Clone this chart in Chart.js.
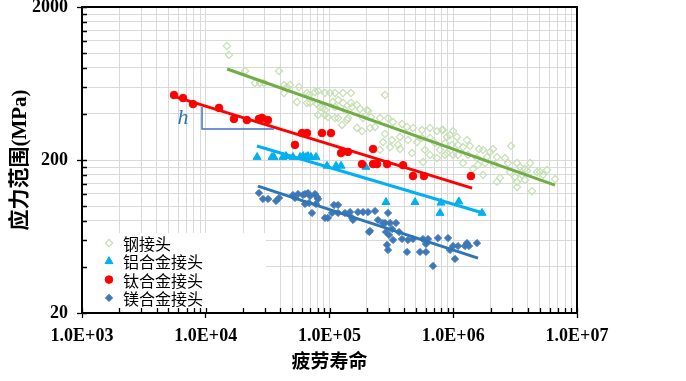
<!DOCTYPE html>
<html><head><meta charset="utf-8">
<script src="https://cdn.jsdelivr.net/npm/chart.js@4.4.1/dist/chart.umd.min.js"></script>
<style>html,body{margin:0;padding:0;background:#fff;}#wrap{width:686px;height:381px;}</style>
</head><body><div id="wrap"><canvas id="c" width="686" height="381"></canvas></div>
<script>
// ---- categories / labels ----
const seriesNames = ['钢接头', '铝合金接头', '钛合金接头', '镁合金接头'];
const xTitle = '疲劳寿命';
const yTitle = '应力范围(MPa)';
const xMajor = [1e3, 1e4, 1e5, 1e6, 1e7];
const xTickLabels = ['1.0E+03', '1.0E+04', '1.0E+05', '1.0E+06', '1.0E+07'];
const yMajor = [20, 200, 2000];
const yTickLabels = ['20', '200', '2000'];

// ---- series values: [fatigue life N, stress range MPa] ----
const steelPts = [
[14.8e3,1112],[15.4e3,971],[20.8e3,763],[39.1e3,763],[25.0e3,637],[27.4e3,637],[29.6e3,637],[42.9e3,618],[45.4e3,600],[48.0e3,618],
[42.9e3,548],[54.6e3,479],[56.7e3,600],[65.8e3,548],[68.3e3,532],[76.4e3,556],[80.8e3,565],[91.9e3,548],[100.9e3,548],[110.8e3,548],
[65.8e3,472],[69.6e3,472],[79.3e3,465],[88.6e3,437],[80.8e3,394],[91.9e3,394],[97.2e3,382],[110.8e3,376],[91.9e3,424],[106.7e3,479],
[117.2e3,493],[128.6e3,548],[149.2e3,548],[280.9e3,532],[128.6e3,472],[149.2e3,472],[110.8e3,444],[133.4e3,424],[176.4e3,431],[204.7e3,418],
[117.2e3,376],[141.1e3,376],[186.5e3,376],[216.5e3,382],[255.9e3,376],[126.2e3,339],[166.8e3,324],[183.1e3,309],[212.5e3,324],[233.2e3,329],
[297.0e3,376],[326.0e3,354],[385.4e3,344],[423.0e3,329],[472.9e3,324],[559.2e3,314],[648.7e3,324],[739.1e3,309],[826.4e3,314],[941.3e3,291],
[1.072e6,283],[280.9e3,296],[320.0e3,270],[371.3e3,283],[430.9e3,270],[509.5e3,262],[559.2e3,279],[648.7e3,279],[712.0e3,258],[857.9e3,258],
[977.0e3,251],[371.3e3,236],[464.2e3,222],[591.0e3,233],[648.7e3,216],[781.5e3,233],[890.3e3,222],[995.5e3,216],[739.1e3,206],[308.3e3,243],
[255.9e3,233],[270.6e3,262],[357.8e3,251],[1.092e6,251],[569.5e3,194],[152.0e3,444],[166.8e3,458],[200.9e3,424],[138.5e3,365],[83.8e3,444],
[811.2e3,314],[995.5e3,309],[890.3e3,283],[1.291e6,270],[1.199e6,243],[1.366e6,247],[1.615e6,236],[1.740e6,233],[1.982e6,226],[2.096e6,236],
[857.9e3,216],[1.092e6,216],[1.316e6,216],[1.556e6,206],[1.874e6,209],[2.257e6,209],[2.620e6,206],[2.929e6,247],[1.806e6,191],[2.175e6,186],
[2.770e6,191],[3.275e6,191],[3.463e6,180],[4.172e6,191],[3.800e6,175],[2.874e6,167],[2.387e6,153],[1.740e6,160],[3.155e6,155],[3.594e6,160],
[3.945e6,170],[4.752e6,167],[5.024e6,167],[5.723e6,172],[3.800e6,148],[5.314e6,160],[6.640e6,150],[3.275e6,144],[4.329e6,125],[1.444e6,175],
[1.199e6,191],[1.585e6,186],[2.257e6,144],[3.275e6,133]
];
const alumPts = [
[26.0e3,209],[34.3e3,209],[35.6e3,209],[42.1e3,209],[44.5e3,212],[50.7e3,209],[57.8e3,209],[61.1e3,212],[64.6e3,209],[67.0e3,212],
[70.9e3,209],[77.8e3,209],[95.5e3,183],[113e3,183],[124e3,183],[197e3,180],[286e3,106],[491e3,106],[796e3,105],[782e3,90],
[1.11e6,107],[1.71e6,90]
];
const titanPts = [
[5.54e3,532],[6.55e3,508],[7.89e3,464],[12.8e3,438],[16.9e3,371],[21.5e3,365],[26.9e3,371],[28.5e3,377],[31.8e3,365],[52.6e3,251],
[60.0e3,300],[65.8e3,300],[86.9e3,300],[102.8e3,300],[124e3,222],[141e3,226],[225e3,236],[183e3,188],[225e3,188],[242e3,188],
[292e3,188],[393e3,185],[473e3,157],[580e3,157],[1.39e6,157]
];
const magPts = [
[26.9e3,121.7],[29.0e3,111.2],[31.9e3,111.2],[37.0e3,107.9],[39.1e3,112.9],[50.7e3,118.1],[52.6e3,112.9],[55.7e3,119.9],[61.1e3,118.1],[63.4e3,119.9],
[67.0e3,121.7],[69.6e3,116.3],[63.4e3,103.2],[68.3e3,104.7],[72.2e3,90.1],[76.4e3,119.9],[79.3e3,114.6],[80.8e3,111.2],[77.8e3,103.2],[91.9e3,83.6],
[97.2e3,83.6],[108.7e3,101.6],[117.2e3,101.6],[104.8e3,90.1],[117.2e3,90.1],[133.4e3,90.1],[146.5e3,91.4],[152e3,83.6],[154.9e3,81.1],[169.9e3,91.4],
[186.5e3,91.4],[204.7e3,91.4],[233.2e3,92.8],[212.5e3,68.7],[208.6e3,67.7],[246.6e3,81.1],[270.6e3,77.5],[280.9e3,77.5],[308.3e3,77.5],[344.7e3,77.5],
[297e3,90.1],[286.2e3,67.7],[302.6e3,64.7],[320e3,70.8],[364.5e3,67.7],[291.5e3,55.7],[326e3,60.0],[297e3,51.6],[385.4e3,60.9],[430.9e3,60.0],
[423e3,50.1],[472.9e3,60.9],[538.6e3,50.1],[602.2e3,50.1],[569.5e3,60.9],[625.2e3,60.9],[602.2e3,56.5],[686e3,40.6],[753e3,61.8],[907.4e3,61.8],
[941.3e3,51.6],[1.033e6,45.1],[995.5e3,54.8],[1.092e6,54.8],[1.244e6,54.8],[1.291e6,57.3],[1.341e6,54.8],[1.556e6,57.3]
];
// fitted trend lines (end points)
const steelFit = [[14.9e3,787],[6.64e6,137]];
const alumFit  = [[25.9e3,247],[1.74e6,90]];
const titanFit = [[5.44e3,523],[1.42e6,131]];
const magFit   = [[26.4e3,135],[1.585e6,45.7]];
// slope annotation "h": corner bracket and label (data units)
const hBracket = [[9.33e3,444],[9.33e3,319],[35.6e3,319]];
const hLabel = [6.55e3,376];

const xy = a => a.map(p => ({x:p[0], y:p[1]}));
function decadeTicks(majors){
  const t=[];
  for(let i=0;i<majors.length-1;i++) for(let k=1;k<=9;k++) t.push(majors[i]*k);
  t.push(majors[majors.length-1]);
  return t;
}
const isMajor = (v, majors) => majors.some(m => Math.abs(m - v) < m*1e-9);

const serif = '"Liberation Serif", "Times New Roman", "Noto Sans CJK SC", serif';
const cjk = '"Noto Sans CJK SC", "Liberation Serif", sans-serif';

const legendPlugin = {
  id:'boxLegend',
  afterDatasetsDraw(chart){
    const ctx = chart.ctx, ca = chart.chartArea;
    ctx.save();
    ctx.fillStyle = '#fff';
    ctx.fillRect(ca.left+1, ca.bottom-80, 183, 79);
    const rows = chart.data.datasets.filter(d => d.inLegend);
    rows.forEach((d,i) => {
      const y = ca.bottom - 70 + i*18.3;
      const x = ca.left + 27;
      ctx.fillStyle = d.backgroundColor; ctx.strokeStyle = d.borderColor; ctx.lineWidth = d.borderWidth;
      Chart.helpers.drawPoint(ctx, {pointStyle:d.pointStyle, radius:d.pointRadius, rotation:0, borderWidth:d.borderWidth}, x, y);
      ctx.fillStyle = '#000'; ctx.font = '16px ' + cjk; ctx.textBaseline = 'middle'; ctx.textAlign='left';
      ctx.fillText(d.label, x + 14, y + 1);
    });
    // annotation
    const xs = chart.scales.x, ys = chart.scales.y;
    ctx.strokeStyle = '#4472c4'; ctx.lineWidth = 1.5;
    ctx.beginPath();
    hBracket.forEach((p,i)=>{ const px=xs.getPixelForValue(p[0]), py=ys.getPixelForValue(p[1]); i?ctx.lineTo(px,py):ctx.moveTo(px,py); });
    ctx.stroke();
    ctx.fillStyle = '#2e75b6'; ctx.font = 'italic 22px ' + serif; ctx.textAlign='center'; ctx.textBaseline='middle';
    ctx.fillText('h', xs.getPixelForValue(hLabel[0]), ys.getPixelForValue(hLabel[1]));
    ctx.restore();
  },
  afterDraw(chart){
    const ctx = chart.ctx, ca = chart.chartArea, xs = chart.scales.x, ys = chart.scales.y;
    ctx.save();
    ctx.strokeStyle = '#000'; ctx.lineWidth = 2;
    ctx.strokeRect(ca.left, ca.top, ca.right-ca.left, ca.bottom-ca.top);
    ctx.lineWidth = 1.3;
    ctx.beginPath();
    xs.ticks.forEach(t => { const px = Math.round(xs.getPixelForValue(t.value))+0.5; ctx.moveTo(px, ca.bottom); ctx.lineTo(px, ca.bottom-5); });
    ys.ticks.forEach(t => { const py = Math.round(ys.getPixelForValue(t.value))+0.5; ctx.moveTo(ca.left, py); ctx.lineTo(ca.left+5, py); });
    ctx.stroke();
    ctx.restore();
  }
};

const gridCol = '#d9d9d9';
new Chart(document.getElementById('c'), {
  type:'scatter',
  data:{ datasets:[
    {label:seriesNames[0], inLegend:true, data:xy(steelPts), pointStyle:'rectRot', pointRadius:3.6, backgroundColor:'rgba(255,255,255,0)', borderColor:'#c5e0b4', borderWidth:1.2, order:9},
    {label:seriesNames[1], inLegend:true, data:xy(alumPts), pointStyle:'triangle', pointRadius:4.6, backgroundColor:'#00b0f0', borderColor:'#00b0f0', borderWidth:1, order:5},
    {label:seriesNames[2], inLegend:true, data:xy(titanPts), pointStyle:'circle', pointRadius:3.8, backgroundColor:'#ff0000', borderColor:'#ff0000', borderWidth:1, order:3},
    {label:seriesNames[3], inLegend:true, data:xy(magPts), pointStyle:'rectRot', pointRadius:3.6, backgroundColor:'#3e77b7', borderColor:'#3e77b7', borderWidth:1, order:7},
    {label:'fit1', data:xy(steelFit), showLine:true, pointRadius:0, borderColor:'#70ad47', borderWidth:3, order:8},
    {label:'fit2', data:xy(alumFit), showLine:true, pointRadius:0, borderColor:'#00b0f0', borderWidth:3, order:4},
    {label:'fit3', data:xy(titanFit), showLine:true, pointRadius:0, borderColor:'#ff0000', borderWidth:3, order:2},
    {label:'fit4', data:xy(magFit), showLine:true, pointRadius:0, borderColor:'#2e75b6', borderWidth:3, order:6}
  ]},
  options:{
    responsive:false, animation:false, devicePixelRatio:1,
    layout:{padding:{top:7, right:109, bottom:0, left:0}},
    plugins:{legend:{display:false}, tooltip:{enabled:false}},
    scales:{
      x:{type:'logarithmic', min:1e3, max:1e7,
        afterBuildTicks:s=>{ s.ticks = decadeTicks(xMajor).map(v=>({value:v})); },
        afterFit:s=>{ s.height = 68; s.paddingLeft = 0; s.paddingRight = 0; },
        ticks:{autoSkip:false, maxRotation:0, padding:8, color:'#000', font:{family:serif, weight:'bold', size:18},
          callback:v=>{ const i = xMajor.findIndex(m=>Math.abs(m-v)<m*1e-9); return i>=0 ? xTickLabels[i] : ''; }},
        grid:{color:gridCol, lineWidth:1, tickLength:5, tickColor:c=> (c.tick && isMajor(c.tick.value,xMajor)) ? '#000' : 'rgba(0,0,0,0)', tickWidth:1.3},
        border:{display:true, color:'#000', width:2},
        title:{display:true, text:xTitle, color:'#000', font:{family:cjk, weight:'bold', size:19}, padding:{top:0,bottom:9}}
      },
      y:{type:'logarithmic', min:20, max:2000,
        afterBuildTicks:s=>{ s.ticks = decadeTicks(yMajor).map(v=>({value:v})); },
        afterFit:s=>{ s.width = 82; s.paddingTop = 0; s.paddingBottom = 0; },
        ticks:{autoSkip:false, padding:9, color:'#000', font:{family:serif, weight:'bold', size:18},
          callback:v=>{ const i = yMajor.findIndex(m=>Math.abs(m-v)<m*1e-9); return i>=0 ? yTickLabels[i] : ''; }},
        grid:{color:gridCol, lineWidth:1, tickLength:5, tickColor:c=> (c.tick && isMajor(c.tick.value,yMajor)) ? '#000' : 'rgba(0,0,0,0)', tickWidth:1.3},
        border:{display:true, color:'#000', width:2},
        title:{display:true, text:yTitle, color:'#000', font:{family:serif, weight:'bold', size:21}, padding:{top:8,bottom:0}}
      }
    }
  },
  plugins:[legendPlugin]
});
</script></body></html>
